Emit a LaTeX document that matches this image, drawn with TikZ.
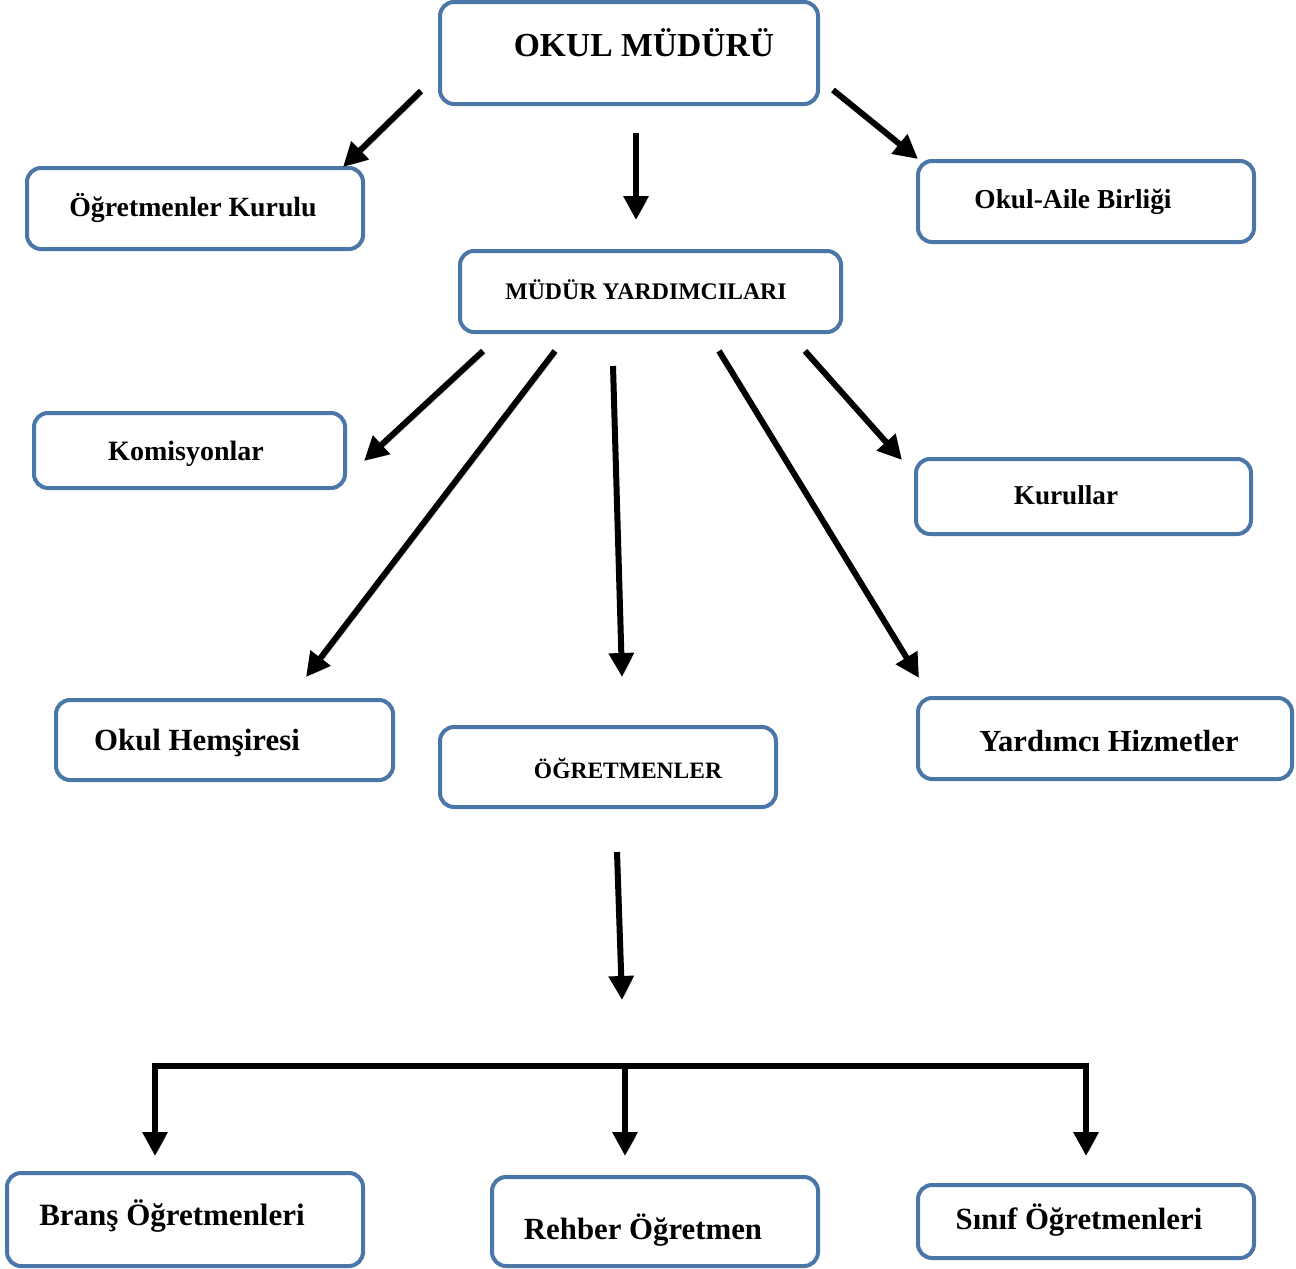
\documentclass[tikz,border=0pt]{standalone}
\usepackage{fontspec}
\setmainfont{Liberation Serif}
\usetikzlibrary{arrows.meta,positioning}
\definecolor{kutumavi}{RGB}{74,118,168}
\tikzset{
  kutu/.style={draw=kutumavi,line width=2pt,rounded corners=7pt,fill=white,inner sep=0pt},
  yazi/.style={inner sep=0pt,anchor=center},
  pfeil/.style={line width=3pt,-{Triangle[length=12pt,width=12pt]},
    preaction={draw=black!20,transform canvas={shift={(1.2pt,-1.2pt)}}}},
  balken/.style={line width=3pt,line cap=rect,
    preaction={draw=black!20,transform canvas={shift={(1.2pt,-1.2pt)}}}}
}
\newcommand{\gr}[1]{\fontsize{#1}{#1}\selectfont\bfseries}
\begin{document}
\begin{tikzpicture}[x=0.5pt,y=-0.5pt]
\useasboundingbox (0,0) rectangle (1296,1269);

\node[kutu,minimum width=189pt,minimum height=51pt] (mudur) at (629,53) {};
\node[yazi,font=\gr{16.8}] (mudurt) at (644,43) {OKUL MÜDÜRÜ};
\node[kutu,minimum width=168pt,minimum height=40.5pt] (kurulu) at (195,208.5) {};
\node[yazi,font=\gr{13.9}] (kurulut) at (193,208) {Öğretmenler Kurulu};
\node[kutu,minimum width=168pt,minimum height=40.5pt] (aile) at (1086,201.5) {};
\node[yazi,font=\gr{13.7}] (ailet) at (1073,202) {Okul-Aile Birliği};
\node[kutu,minimum width=190.5pt,minimum height=40.5pt] (yard) at (650.5,291.5) {};
\node[yazi,font=\gr{11.9}] (yardt) at (646,290) {MÜDÜR YARDIMCILARI};
\node[kutu,minimum width=155.5pt,minimum height=37.5pt] (komis) at (189.5,450.5) {};
\node[yazi,font=\gr{14}] (komist) at (186,454) {Komisyonlar};
\node[kutu,minimum width=167.5pt,minimum height=37.5pt] (kurullar) at (1083.5,496.5) {};
\node[yazi,font=\gr{13.6}] (kurullart) at (1066,495) {Kurullar};
\node[kutu,minimum width=168.5pt,minimum height=40pt] (hemsire) at (224.5,740) {};
\node[yazi,font=\gr{15.4}] (hemsiret) at (197,743) {Okul Hemşiresi};
\node[kutu,minimum width=168pt,minimum height=40pt] (ogretmen) at (608,767) {};
\node[yazi,font=\gr{11.75}] (ogretment) at (628,768) {ÖĞRETMENLER};
\node[kutu,minimum width=187pt,minimum height=40.5pt] (hizmet) at (1105,738.5) {};
\node[yazi,font=\gr{15.3}] (hizmett) at (1109,741) {Yardımcı Hizmetler};
\node[kutu,minimum width=178pt,minimum height=46.5pt] (brans) at (185,1219.5) {};
\node[yazi,font=\gr{15.5}] (branst) at (172,1216) {Branş Öğretmenleri};
\node[kutu,minimum width=163pt,minimum height=44.5pt] (rehber) at (655,1221.5) {};
\node[yazi,font=\gr{15.4}] (rehbert) at (643,1230) {Rehber Öğretmen};
\node[kutu,minimum width=168pt,minimum height=36.5pt] (sinif) at (1086,1221.5) {};
\node[yazi,font=\gr{15.4}] (sinift) at (1079,1220) {Sınıf Öğretmenleri};

\coordinate (a1s) at (421,91);
\coordinate (a1e) at (343,167);
\coordinate (a2s) at (636,133);
\coordinate (a2e) at (636,220);
\coordinate (a3s) at (833,90);
\coordinate (a3e) at (918,159);
\coordinate (b1s) at (483,351);
\coordinate (b1e) at (364,461);
\coordinate (b2s) at (555,351);
\coordinate (b2e) at (306,677);
\coordinate (b3s) at (613,366);
\coordinate (b3e) at (622,677);
\coordinate (b4s) at (719,351);
\coordinate (b4e) at (919,678);
\coordinate (b5s) at (805,351);
\coordinate (b5e) at (902,460);
\coordinate (c1s) at (617,852);
\coordinate (c1e) at (622,1000);
\coordinate (dl) at (155,1066);
\coordinate (dm) at (625,1066);
\coordinate (dr) at (1086,1066);

\draw[pfeil] (a1s) -- (a1e);
\draw[pfeil] (a2s) -- (a2e);
\draw[pfeil] (a3s) -- (a3e);
\draw[pfeil] (b1s) -- (b1e);
\draw[pfeil] (b2s) -- (b2e);
\draw[pfeil] (b3s) -- (b3e);
\draw[pfeil] (b4s) -- (b4e);
\draw[pfeil] (b5s) -- (b5e);
\draw[pfeil] (c1s) -- (c1e);
\draw[balken] (dl) -- (dr);
\draw[pfeil] (dl) -- ++(0,90);
\draw[pfeil] (dm) -- ++(0,90);
\draw[pfeil] (dr) -- ++(0,90);
\end{tikzpicture}
\end{document}
